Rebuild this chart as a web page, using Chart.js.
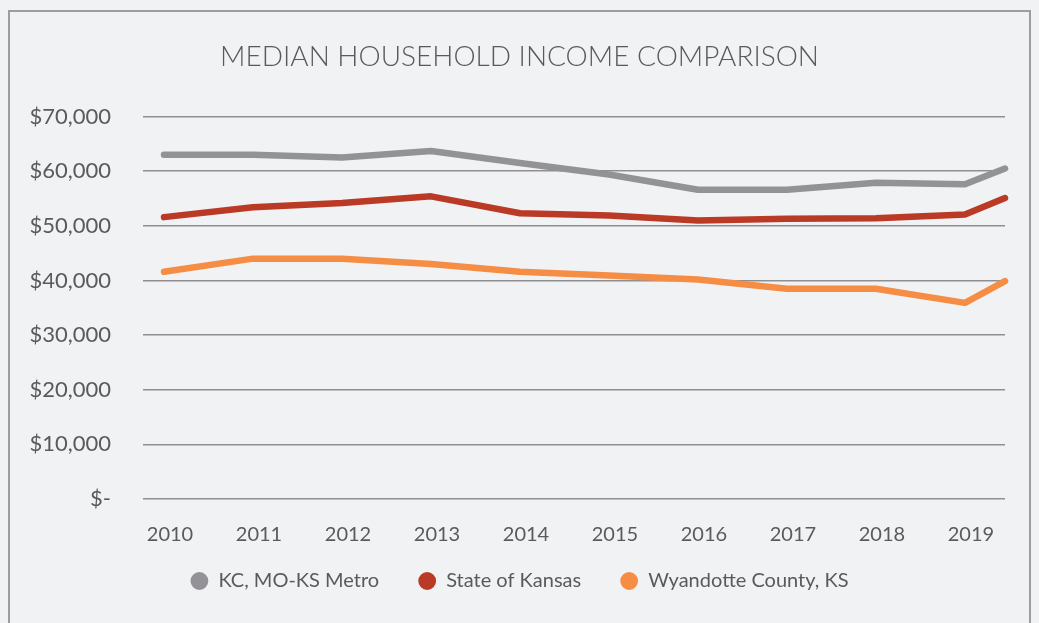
<!DOCTYPE html>
<html>
<head>
<meta charset="utf-8">
<script src="https://cdn.jsdelivr.net/npm/chart.js@4.4.1/dist/chart.umd.min.js"></script>
<style>
  html, body { margin: 0; padding: 0; background: #f1f2f4; overflow: hidden; }
  #frame { position: absolute; left: 8px; top: 10px; width: 1019px; height: 640px;
           border: 2px solid #9d9d9f; box-sizing: content-box; }
  #wrap { position: absolute; left: 0; top: 0; width: 1039px; height: 623px; }
</style>
</head>
<body>
<div id="frame"></div>
<div id="wrap"><canvas id="c" width="1039" height="623"></canvas></div>
<script>
// ---- data ----
const title = 'MEDIAN HOUSEHOLD INCOME COMPARISON';
const categories = ['2010','2011','2012','2013','2014','2015','2016','2017','2018','2019'];
const xValues = [2010, 2011, 2012, 2013, 2014, 2015, 2016, 2017, 2018, 2019, 2019.45];
const seriesNames = ['KC, MO-KS Metro', 'State of Kansas', 'Wyandotte County, KS'];
const metro     = [63000, 63000, 62500, 63700, 61500, 59400, 56600, 56600, 57900, 57600, 60500];
const kansas    = [51600, 53400, 54200, 55400, 52300, 51900, 51000, 51300, 51400, 52100, 55100];
const wyandotte = [41600, 44000, 44000, 43000, 41600, 40900, 40200, 38500, 38500, 35900, 39900];
const yTicks = [0, 10000, 20000, 30000, 40000, 50000, 60000, 70000];

const colors = ['#939397', '#ba3a26', '#f68d45'];
const textColor = '#5a5a5c';
const FONT = 'Lato';

const seriesValues = [metro, kansas, wyandotte];
const datasets = seriesValues.map((vals, i) => ({
  label: seriesNames[i],
  data: vals.map((v, j) => ({ x: xValues[j], y: v })),
  borderColor: colors[i],
  backgroundColor: colors[i],
  borderWidth: 6.5,
  borderCapStyle: 'round',
  borderJoinStyle: 'round',
  pointRadius: 0,
  pointHoverRadius: 0,
  tension: 0,
  clip: false
}));

new Chart(document.getElementById('c'), {
  type: 'line',
  data: { datasets },
  options: {
    responsive: false,
    animation: false,
    events: [],
    layout: { padding: { left: 0, right: 0, top: 0, bottom: 22 } },
    plugins: {
      title: {
        display: true,
        text: title,
        color: textColor,
        font: { family: FONT, size: 28, weight: '300' },
        padding: { top: 40, bottom: 43 }
      },
      legend: {
        position: 'bottom',
        labels: {
          usePointStyle: true,
          pointStyle: 'circle',
          boxWidth: 18,
          boxHeight: 8,
          padding: 39,
          color: textColor,
          font: { family: FONT, size: 20 }
        }
      },
      tooltip: { enabled: false }
    },
    scales: {
      x: {
        type: 'linear',
        min: 2009.764,
        max: 2019.45,
        grid: { display: false, drawTicks: false },
        border: { display: false },
        afterBuildTicks: (s) => { s.ticks = categories.map(c => ({ value: Number(c) })); },
        afterFit: (s) => {
          s.height = 33;
          // let the year labels extend below the (short) axis box without being clipped
          s._computeLabelArea = () => undefined;
        },
        ticks: {
          callback: (v) => String(v),
          color: textColor,
          padding: 24,
          labelOffset: 6,
          maxRotation: 0,
          autoSkip: false,
          font: { family: FONT, size: 20 }
        }
      },
      y: {
        min: 0,
        max: 70000,
        afterBuildTicks: (s) => { s.ticks = yTicks.map(v => ({ value: v })); },
        afterFit: (s) => { s.width = 143; },
        grid: { color: '#8f8f92', lineWidth: 1.5, drawTicks: false },
        border: { display: false },
        ticks: {
          callback: (v) => v === 0 ? '$-' : '$' + v.toLocaleString('en-US'),
          color: textColor,
          padding: 32,
          font: { family: FONT, size: 22 }
        }
      },
      yRight: {
        position: 'right',
        display: true,
        min: 0, max: 70000,
        grid: { display: false, drawTicks: false },
        border: { display: false },
        ticks: { display: false },
        afterFit: (s) => { s.width = 34; }
      }
    }
  }
});
</script>
</body>
</html>
